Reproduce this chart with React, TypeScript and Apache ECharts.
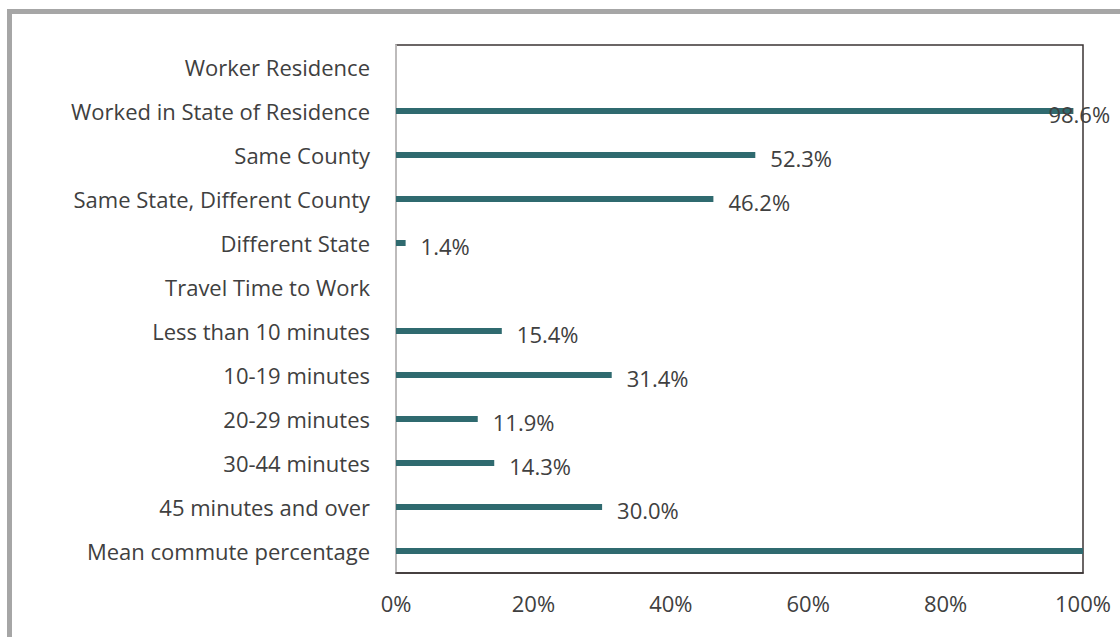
import React, { useEffect, useRef } from "react";
import * as echarts from "echarts";

const categories = [
  "Worker Residence",
  "Worked in State of Residence",
  "Same County",
  "Same State, Different County",
  "Different State",
  "Travel Time to Work",
  "Less than 10 minutes",
  "10-19 minutes",
  "20-29 minutes",
  "30-44 minutes",
  "45 minutes and over",
  "Mean commute percentage",
];

const values: (number | null)[] = [null, 98.6, 52.3, 46.2, 1.4, null, 15.4, 31.4, 11.9, 14.3, 30.0, 100];
const showLabel = [false, true, true, true, true, false, true, true, true, true, true, false];
const xTicks = [0, 20, 40, 60, 80, 100];

export default function App() {
  const ref = useRef<HTMLDivElement>(null);
  useEffect(() => {
    if (!ref.current) return;
    const chart = echarts.init(ref.current, null, { renderer: "svg" });
    const font = "'Open Sans', 'Noto Sans', sans-serif";
    const fs = 22;
    const data = values.map((v, i) => {
      if (v === null) return { value: null };
      const item: any = {
        value: v,
        label: { show: showLabel[i] },
      };
      if (v > 90 && showLabel[i]) {
        item.label = { show: true, offset: [-40, 3] };
      }
      return item;
    });
    chart.setOption({
      animation: false,
      backgroundColor: "#ffffff",
      grid: {
        left: 396,
        right: 37,
        top: 45,
        bottom: 64,
        show: true,
        borderColor: "#3b3434",
        borderWidth: 1.5,
        containLabel: false,
      },
      xAxis: {
        type: "value",
        min: xTicks[0],
        max: xTicks[xTicks.length - 1],
        interval: 20,
        splitLine: { show: false },
        axisLine: { show: true, lineStyle: { color: "#3b3434", width: 1.5 } },
        axisTick: { show: false },
        axisLabel: {
          formatter: "{value}%",
          color: "#404040",
          fontSize: fs,
          fontFamily: font,
          margin: 19,
        },
      },
      yAxis: {
        type: "category",
        data: categories,
        inverse: true,
        axisLine: { show: true, lineStyle: { color: "#d9d9d9", width: 1.5 } },
        axisTick: { show: false },
        axisLabel: {
          color: "#404040",
          fontSize: fs,
          fontFamily: font,
          margin: 26,
          padding: [0, 0, 4, 0],
        },
      },
      series: [
        {
          type: "bar",
          data,
          barWidth: 6,
          itemStyle: { color: "#2f6a6f" },
          label: {
            show: true,
            position: "right",
            distance: 15,
            offset: [0, 3],
            color: "#404040",
            fontSize: fs,
            fontFamily: font,
            formatter: (p: any) => (p.value == null ? "" : Number(p.value).toFixed(1) + "%"),
          },
        },
      ],
      graphic: [
        {
          type: "rect",
          shape: { x: 9.5, y: 11.5, width: 1300, height: 800 },
          style: { fill: "none", stroke: "#a6a6a6", lineWidth: 5 },
          silent: true,
        },
      ],
    });
    return () => chart.dispose();
  }, []);
  return (
    <div
      ref={ref}
      style={{ position: "fixed", left: 0, top: 0, width: 1120, height: 637 }}
    />
  );
}
